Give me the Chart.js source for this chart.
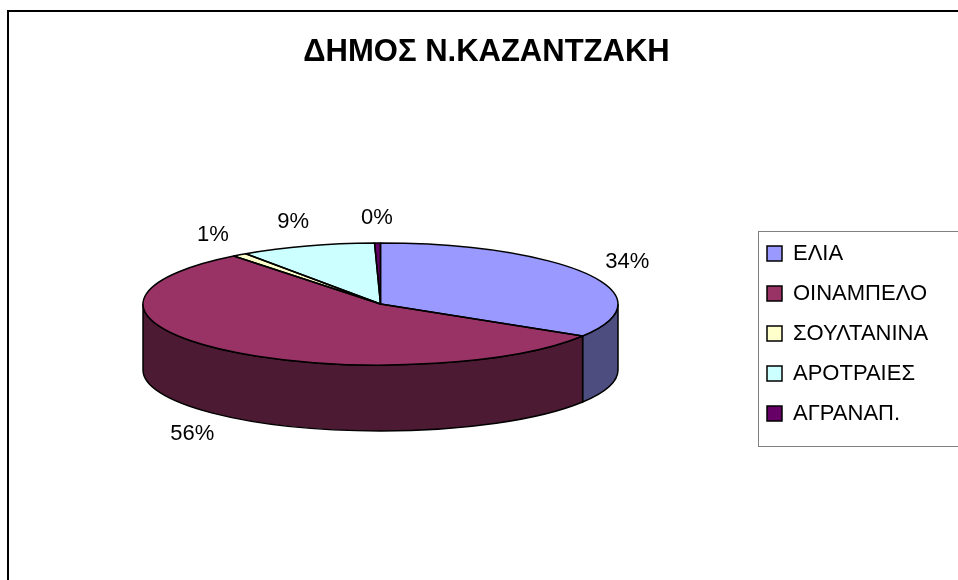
<!DOCTYPE html>
<html lang="el">
<head>
<meta charset="utf-8">
<title>ΔΗΜΟΣ Ν.ΚΑΖΑΝΤΖΑΚΗ</title>
<script src="https://cdn.jsdelivr.net/npm/chart.js@4.4.0/dist/chart.umd.min.js"></script>
<style>
  html, body { margin: 0; padding: 0; background: #fff; overflow: hidden; }
  #pie { display: block; }
</style>
</head>
<body>
<canvas id="pie" width="958" height="580"></canvas>
<script>
// Data
const categories = ['ΕΛΙΑ', 'ΟΙΝΑΜΠΕΛΟ', 'ΣΟΥΛΤΑΝΙΝΑ', 'ΑΡΟΤΡΑΙΕΣ', 'ΑΓΡΑΝΑΠ.'];
const shares = [33.8, 55.6, 1.0, 9.2, 0.4];
const topColors = ['#9999ff', '#993366', '#ffffcc', '#ccffff', '#660066'];
const sideColors = ['#4d4d80', '#4d1a33', '#808066', '#668080', '#330033'];

// Where the tilted pie sits on the page
const pie3d = { cx: 380.5, cy: 304, rx: 237.5, ry: 61, depth: 66 };

Chart.defaults.font.family = 'Arial, "Liberation Sans", sans-serif';
Chart.defaults.color = '#000';

// Squash the library's pie into an ellipse and give it a side wall
const tiltPlugin = {
    id: 'tilt',
    beforeDraw(chart) {
        const ctx = chart.ctx;
        ctx.save();
        // outer frame
        ctx.strokeStyle = '#000';
        ctx.lineWidth = 2;
        ctx.strokeRect(8, 11, 1000, 1000);
        // legend frame
        ctx.strokeStyle = '#808080';
        ctx.lineWidth = 1;
        ctx.strokeRect(758.5, 231.5, 300, 215);
        ctx.restore();
    },
    afterLayout(chart) {
        const lg = chart.legend;
        lg.left = 749;
        lg.top = 224.5;
        lg.right = 1000;
        lg.bottom = 470;
        lg.width = lg.right - lg.left;
        lg.height = lg.bottom - lg.top;
    },
    beforeDatasetsDraw(chart) {
        const ctx = chart.ctx;
        const arcs = chart.getDatasetMeta(0).data;
        const { cx, cy, rx, ry, depth } = pie3d;

        // front wall, only the part facing the viewer (0..PI)
        ctx.save();
        ctx.lineWidth = 1.5;
        ctx.strokeStyle = '#000';
        arcs.forEach((arc, i) => {
            const a = Math.max(arc.startAngle, 0);
            const b = Math.min(arc.endAngle, Math.PI);
            if (b <= a) return;
            ctx.beginPath();
            ctx.ellipse(cx, cy, rx, ry, 0, a, b);
            ctx.lineTo(cx + rx * Math.cos(b), cy + depth + ry * Math.sin(b));
            ctx.ellipse(cx, cy + depth, rx, ry, 0, b, a, true);
            ctx.closePath();
            ctx.fillStyle = sideColors[i];
            ctx.fill();
            ctx.stroke();
        });
        ctx.restore();

        // top faces drawn by Chart.js through a flattening transform
        const first = arcs[0];
        ctx.save();
        ctx.translate(cx, cy);
        ctx.scale(rx / first.outerRadius, ry / first.outerRadius);
        ctx.translate(-first.x, -first.y);
    },
    afterDatasetsDraw(chart) {
        const ctx = chart.ctx;
        ctx.restore();

        const arcs = chart.getDatasetMeta(0).data;
        const values = chart.data.datasets[0].data;
        const { cx, cy, rx, ry, depth } = pie3d;

        // outlines of the top faces
        ctx.save();
        ctx.lineWidth = 1.5;
        ctx.lineJoin = 'round';
        ctx.strokeStyle = '#000';
        arcs.forEach(arc => {
            ctx.beginPath();
            ctx.moveTo(cx, cy);
            ctx.ellipse(cx, cy, rx, ry, 0, arc.startAngle, arc.endAngle);
            ctx.closePath();
            ctx.stroke();
        });

        // percentage labels
        const total = values.reduce((s, v) => s + v, 0);
        ctx.font = '22px Arial, "Liberation Sans", sans-serif';
        ctx.fillStyle = '#000';
        ctx.textAlign = 'center';
        ctx.textBaseline = 'middle';
        arcs.forEach((arc, i) => {
            const mid = (arc.startAngle + arc.endAngle) / 2;
            const s = Math.sin(mid);
            const x = cx + (rx + 45) * Math.cos(mid);
            const y = cy + (ry + 25) * s + (s > 0 ? depth : 0);
            ctx.fillText(Math.round(values[i] / total * 100) + '%', x, y);
        });
        ctx.restore();
    }
};

const pieCtx = document.getElementById('pie').getContext('2d');
new Chart(pieCtx, {
    type: 'pie',
    data: {
        labels: categories,
        datasets: [{
            data: shares,
            backgroundColor: topColors,
            borderWidth: 0,
            clip: false
        }]
    },
    options: {
        responsive: false,
        animation: false,
        events: [],
        layout: {
            padding: { left: 15 }
        },
        plugins: {
            title: {
                display: true,
                text: 'ΔΗΜΟΣ Ν.ΚΑΖΑΝΤΖΑΚΗ',
                color: '#000',
                font: { size: 31, weight: 'bold' },
                padding: { top: 34, bottom: 10 }
            },
            legend: {
                position: 'right',
                align: 'start',
                labels: {
                    boxWidth: 15,
                    boxHeight: 15,
                    padding: 18,
                    color: '#000',
                    textAlign: 'left',
                    font: { size: 22 },
                    generateLabels(chart) {
                        const items = Chart.overrides.doughnut.plugins.legend.labels.generateLabels(chart);
                        return items.map(it => Object.assign(it, { lineWidth: 1.5, strokeStyle: '#000' }));
                    }
                }
            },
            tooltip: { enabled: false }
        }
    },
    plugins: [tiltPlugin]
});
</script>
</body>
</html>
